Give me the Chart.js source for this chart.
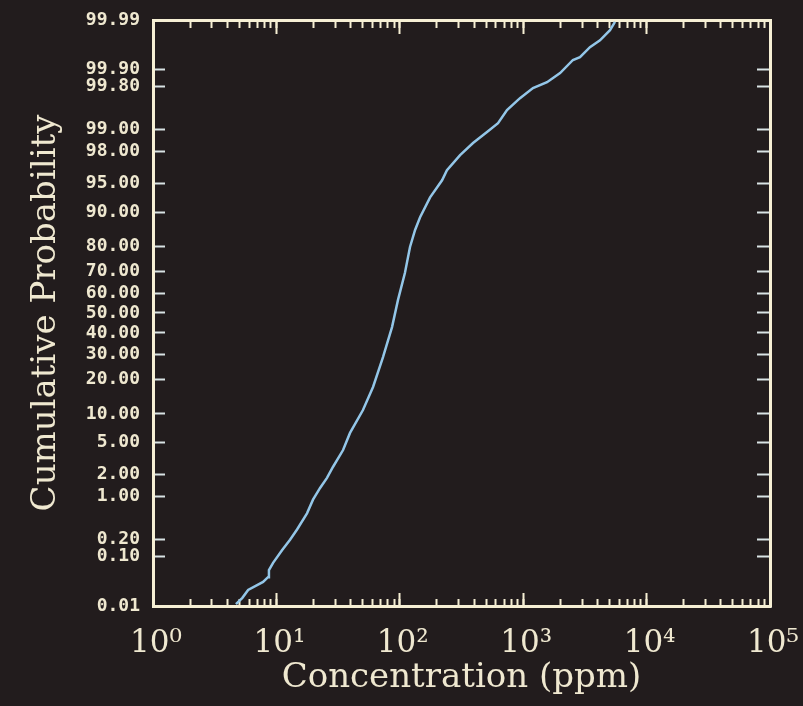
<!DOCTYPE html>
<html>
<head>
<meta charset="utf-8">
<style>
  html, body { margin: 0; padding: 0; background: #221c1d; }
  canvas { display: block; }
</style>
</head>
<body>
<canvas id="probChart" width="803" height="706"></canvas>
<script src="https://cdn.jsdelivr.net/npm/chart.js@4.4.1/dist/chart.umd.min.js"></script>
<script>
// ---------------------------------------------------------------
// data: concentration (ppm) vs cumulative probability (%)
const concentration = [
  4.7, 5.3, 5.9, 7.8, 8.55, 8.7, 9.4, 11.1, 12.9, 14.7, 17.7, 19.8, 22.6, 25.7, 28.8,
  34.7, 39.5, 50.3, 60.7, 73.1, 86.5, 96.7, 110, 121, 133, 146, 176, 220, 241, 308,
  392, 509, 625, 739, 942, 1200, 1560, 1990, 2530, 2885, 3475, 4190, 5050, 5545
];
const cumProbability = [
  0.011, 0.015, 0.022, 0.032, 0.04, 0.055, 0.076, 0.13, 0.2, 0.3, 0.55, 0.89, 1.32, 1.82, 2.55,
  4.1, 6.4, 10.9, 17.4, 28.8, 42.9, 56.6, 69.4, 79.9, 85.4, 88.8, 92.9, 95.4, 96.5, 97.75,
  98.45, 98.92, 99.2, 99.5, 99.68, 99.785, 99.83, 99.884, 99.934, 99.942, 99.963, 99.973, 99.9835, 99.989
];

// axis ticks
const probTicks = [0.01, 0.1, 0.2, 1, 2, 5, 10, 20, 30, 40, 50, 60, 70, 80, 90, 95, 98, 99, 99.8, 99.9, 99.99];
const decadeTicks = [1, 10, 100, 1000, 10000, 100000];
const decadeLabels = ["10⁰", "10¹", "10²", "10³", "10⁴", "10⁵"];
const minorSteps = [2, 3, 4, 5, 6, 7, 8, 9];

const allXTicks = [];
decadeTicks.forEach((d, i) => {
  allXTicks.push(d);
  if (i < decadeTicks.length - 1) minorSteps.forEach((m) => allXTicks.push(m * d));
});

const textColor = "#efe8d0";
const frameColor = "#f6efd4";
const yTickColor = "#d9e3e4";
const lineColor = "#93c6e8";

// ---------------------------------------------------------------
// inverse normal (Acklam) + normal cdf, for the probability axis
function probit(p) {
  const a = [-39.69683028665376, 220.9460984245205, -275.9285104469687, 138.357751867269, -30.66479806614716, 2.506628277459239];
  const b = [-54.47609879822406, 161.5858368580409, -155.6989798598866, 66.80131188771972, -13.28068155288572];
  const c = [-0.007784894002430293, -0.3223964580411365, -2.400758277161838, -2.549732539343734, 4.374664141464968, 2.938163982698783];
  const d = [0.007784695709041462, 0.3224671290700398, 2.445134137142996, 3.754408661907416];
  const pLow = 0.02425;
  let q, r;
  if (p < pLow) {
    q = Math.sqrt(-2 * Math.log(p));
    return (((((c[0] * q + c[1]) * q + c[2]) * q + c[3]) * q + c[4]) * q + c[5]) /
      ((((d[0] * q + d[1]) * q + d[2]) * q + d[3]) * q + 1);
  }
  if (p <= 1 - pLow) {
    q = p - 0.5;
    r = q * q;
    return (((((a[0] * r + a[1]) * r + a[2]) * r + a[3]) * r + a[4]) * r + a[5]) * q /
      (((((b[0] * r + b[1]) * r + b[2]) * r + b[3]) * r + b[4]) * r + 1);
  }
  q = Math.sqrt(-2 * Math.log(1 - p));
  return -(((((c[0] * q + c[1]) * q + c[2]) * q + c[3]) * q + c[4]) * q + c[5]) /
    ((((d[0] * q + d[1]) * q + d[2]) * q + d[3]) * q + 1);
}

function normCdf(z) {
  const t = 1 / (1 + 0.3275911 * Math.abs(z) / Math.SQRT2);
  const y = 1 - (((((1.061405429 * t - 1.453152027) * t) + 1.421413741) * t - 0.284496736) * t + 0.254829592) * t *
    Math.exp(-z * z / 2);
  return z >= 0 ? (1 + y) / 2 : (1 - y) / 2;
}

class ProbitScale extends Chart.LinearScale {
  determineDataLimits() {
    this.min = probTicks[0];
    this.max = probTicks[probTicks.length - 1];
  }
  buildTicks() {
    return probTicks.map((v) => ({ value: v }));
  }
  getPixelForValue(value) {
    const zMin = probit(this.min / 100);
    const zMax = probit(this.max / 100);
    return this.getPixelForDecimal((probit(value / 100) - zMin) / (zMax - zMin));
  }
  getValueForPixel(pixel) {
    const zMin = probit(this.min / 100);
    const zMax = probit(this.max / 100);
    return 100 * normCdf(zMin + this.getDecimalForPixel(pixel) * (zMax - zMin));
  }
}
ProbitScale.id = "probit";
ProbitScale.defaults = {};
Chart.register(ProbitScale);

// ---------------------------------------------------------------
function xAxis(position, ticks, tickLen, size, withLabels) {
  return {
    type: "logarithmic",
    axis: "x",
    position: position,
    min: 1,
    max: 100000,
    weight: size > 0 ? 5 : 0,
    afterBuildTicks: (s) => { s.ticks = ticks.map((v) => ({ value: v })); },
    afterFit: (s) => {
      s.height = size;
      s.paddingLeft = 0;
      s.paddingRight = 0;
    },
    grid: { drawOnChartArea: false, tickLength: -tickLen, tickColor: frameColor, tickWidth: 2 },
    border: { display: size > 0, color: frameColor, width: 3 },
    ticks: {
      display: withLabels,
      autoSkip: false,
      maxRotation: 0,
      color: textColor,
      padding: 26,
      labelOffset: 3,
      font: { family: "DejaVu Serif", size: 31 },
      callback: (v) => {
        const i = decadeTicks.indexOf(v);
        return i >= 0 ? decadeLabels[i] : "";
      },
    },
    title: {
      display: withLabels,
      text: "Concentration (ppm)",
      color: textColor,
      font: { family: "DejaVu Serif", size: 34 },
      padding: { top: 0, bottom: 7 },
    },
  };
}

function yAxis(position, width, tickLen, withLabels) {
  return {
    type: "probit",
    axis: "y",
    position: position,
    weight: 5,
    afterFit: (s) => {
      s.width = width;
      s.paddingTop = 0;
      s.paddingBottom = 0;
    },
    grid: { drawOnChartArea: false, tickLength: -tickLen, tickColor: yTickColor, tickWidth: 2 },
    border: { color: frameColor, width: 3 },
    ticks: {
      display: withLabels,
      autoSkip: false,
      color: textColor,
      padding: 25,
      font: { family: "DejaVu Sans Mono", weight: "bold", size: 18 },
      callback: (v) => Number(v).toFixed(2),
    },
    title: {
      display: withLabels,
      text: "Cumulative Probability",
      color: textColor,
      font: { family: "DejaVu Serif", size: 34 },
      padding: { top: 26, bottom: 0 },
    },
  };
}

const ctx = document.getElementById("probChart");
const points = concentration.map((c, i) => ({ x: c, y: cumProbability[i] }));

new Chart(ctx, {
  type: "line",
  data: {
    datasets: [
      {
        label: "Cumulative Probability",
        data: points,
        xAxisID: "x",
        yAxisID: "y",
        borderColor: lineColor,
        borderWidth: 2.5,
        pointRadius: 0,
        tension: 0,
        fill: false,
      },
    ],
  },
  options: {
    responsive: false,
    animation: false,
    devicePixelRatio: 1,
    events: [],
    layout: { padding: 0 },
    plugins: { legend: { display: false }, tooltip: { enabled: false } },
    scales: {
      x: xAxis("bottom", allXTicks, 7, 100, true),
      xMajor: xAxis("bottom", decadeTicks, 13, 0, false),
      xTop: xAxis("top", allXTicks, 8, 20, false),
      xTopMajor: xAxis("top", decadeTicks, 14, 0, false),
      y: yAxis("left", 153, 12, true),
      yRight: yAxis("right", 33, 13, false),
    },
  },
});
</script>
</body>
</html>
